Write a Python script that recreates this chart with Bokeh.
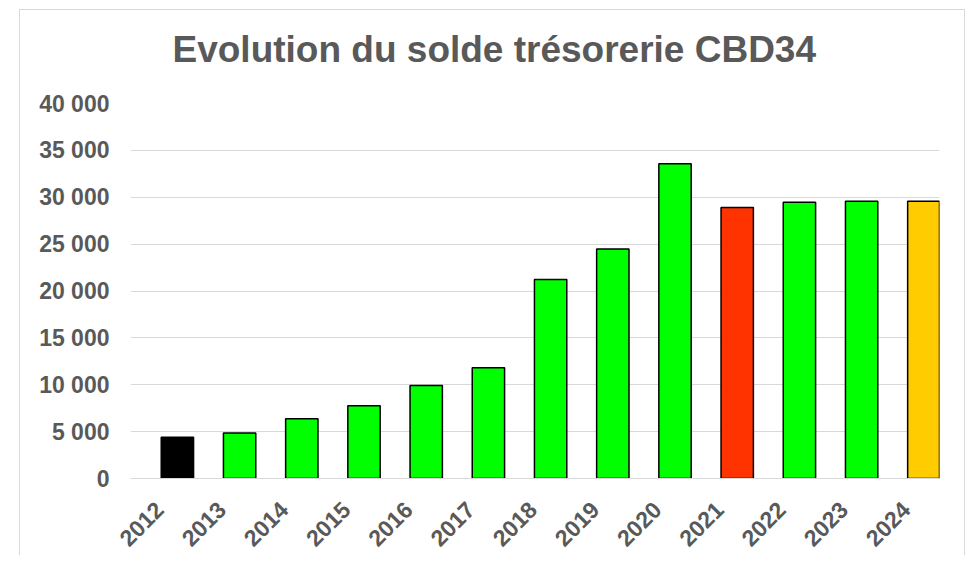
import math
from bokeh.plotting import figure
from bokeh.models import Range1d, FixedTicker, ColumnDataSource, Title
from bokeh.embed import file_html
from bokeh.resources import INLINE

# ---- data ----
years = [2012, 2013, 2014, 2015, 2016, 2017, 2018, 2019, 2020, 2021, 2022, 2023, 2024]
solde = [4400, 4850, 6380, 7770, 9930, 11810, 21240, 24470, 33580, 28900, 29470, 29570, 29570]
bar_colors = ["#000000", "#00FF00", "#00FF00", "#00FF00", "#00FF00", "#00FF00", "#00FF00",
              "#00FF00", "#00FF00", "#FF3300", "#00FF00", "#00FF00", "#FFCC00"]
y_ticks = [0, 5000, 10000, 15000, 20000, 25000, 30000, 35000, 40000]
y_tick_labels = ["0", "5 000", "10 000", "15 000", "20 000", "25 000", "30 000", "35 000", "40 000"]
x_tick_labels = [str(y) for y in years]
title_text = "Evolution du solde trésorerie CBD34"

TEXT = "#595959"
FONT = "Liberation Sans"
LABEL_SHIFT = 0.29  # rotated labels sit left of their bars, as in the original

src = ColumnDataSource(dict(x=years, top=solde, color=bar_colors))

p = figure(
    width=946, height=546, title=None,
    output_backend="svg", toolbar_location=None,
    x_range=Range1d(years[0] - 0.754, years[-1] + 0.252),
    y_range=Range1d(0, 40000),
    min_border_left=110, min_border_right=27, min_border_top=93, min_border_bottom=77,
    margin=(9, 0, 0, 19),
    styles={"border-top": "1px solid #d9d9d9", "border-left": "1px solid #d9d9d9",
            "border-right": "1px solid #d9d9d9"},
)
p.outline_line_color = None

p.vbar(x="x", top="top", width=0.52, bottom=0, source=src,
       fill_color="color", line_color="#000000", line_width=1.5)

# title (a blank spacer title keeps the real title higher above the plot area)
p.add_layout(Title(text=" ", text_font_size="1px", standoff=31), "above")
p.add_layout(Title(text=title_text, align="left", offset=42, standoff=0,
                   text_font=FONT, text_font_style="bold", text_font_size="37px",
                   text_color=TEXT), "above")

# grid
p.xgrid.grid_line_color = None
p.ygrid.grid_line_color = "#d9d9d9"
p.ygrid.grid_line_width = 1
p.ygrid.ticker = FixedTicker(ticks=y_ticks)

# y axis
p.yaxis.ticker = FixedTicker(ticks=y_ticks)
p.yaxis.major_label_overrides = {t: l for t, l in zip(y_ticks, y_tick_labels)}
p.yaxis.axis_line_color = None
p.yaxis.major_tick_line_color = None
p.yaxis.minor_tick_line_color = None
p.yaxis.major_tick_out = 0
p.yaxis.major_tick_in = 0
p.yaxis.major_label_standoff = 21
p.yaxis.major_label_text_font = FONT
p.yaxis.major_label_text_font_style = "bold"
p.yaxis.major_label_text_font_size = "23px"
p.yaxis.major_label_text_color = TEXT

# x axis
x_ticks = [y - LABEL_SHIFT for y in years]
p.xaxis.ticker = FixedTicker(ticks=x_ticks)
p.xaxis.major_label_overrides = {t: l for t, l in zip(x_ticks, x_tick_labels)}
p.xaxis.axis_line_color = "#d9d9d9"
p.xaxis.major_tick_line_color = None
p.xaxis.minor_tick_line_color = None
p.xaxis.major_tick_out = 0
p.xaxis.major_tick_in = 0
p.xaxis.major_label_orientation = math.pi / 4
p.xaxis.major_label_standoff = 27
p.xaxis.major_label_text_font = FONT
p.xaxis.major_label_text_font_style = "bold"
p.xaxis.major_label_text_font_size = "23px"
p.xaxis.major_label_text_color = TEXT

open("out.html", "w").write(file_html(p, INLINE))
